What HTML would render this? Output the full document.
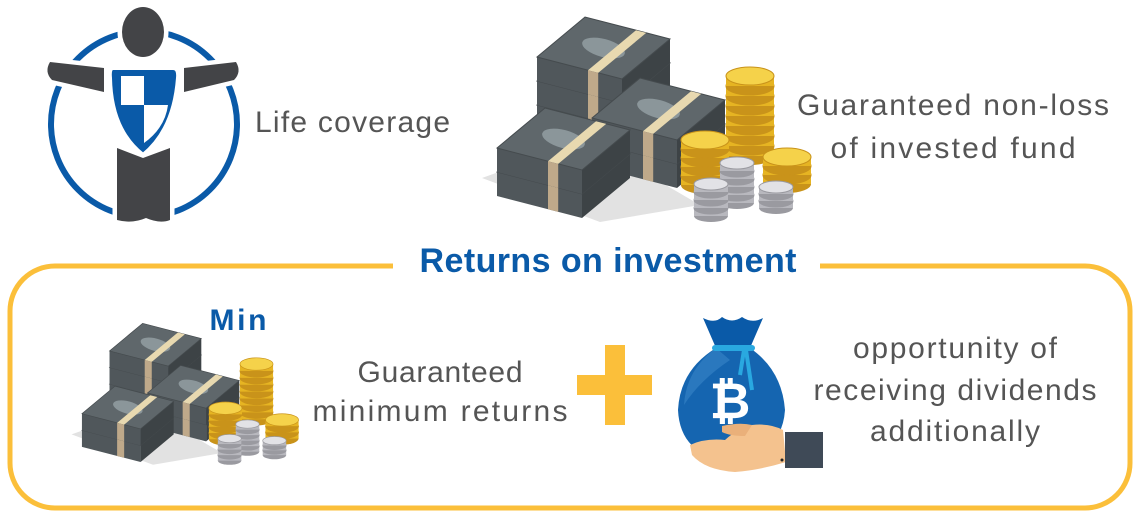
<!DOCTYPE html>
<html><head><meta charset="utf-8"><style>
html,body{margin:0;padding:0;background:#fff;}
svg{display:block;}
text{font-family:"Liberation Sans",sans-serif;}
.t{fill:#555;font-size:30px;}
.b{fill:#0a5aa8;font-weight:bold;}
</style></head><body>
<svg id="s" width="1140" height="515" viewBox="0 0 1140 515" xmlns="http://www.w3.org/2000/svg">
<!-- frame -->
<path d="M393 266 H55 A45 45 0 0 0 10 311 V463 A45 45 0 0 0 55 508 H1085 A45 45 0 0 0 1130 463 V311 A45 45 0 0 0 1085 266 H820" fill="none" stroke="#fbbf3a" stroke-width="5"/>
<!-- person icon -->
<circle cx="144" cy="124" r="93" fill="none" stroke="#0a5aa8" stroke-width="6"/>
<g stroke="#fff" stroke-width="9" fill="#434447">
<ellipse cx="143" cy="32" rx="21" ry="25"/>
<path d="M50 62 Q44 72 52 80 L104 92 L104 68 Z"/>
<path d="M236 62 Q242 72 234 80 L184 92 L184 68 Z"/>
<path d="M117 148 L143 158 L170 148 L170 220 Q160 224 146 218 Q132 224 117 220 Z"/>
</g>
<g stroke="none" fill="#434447">
<ellipse cx="143" cy="32" rx="21" ry="25"/>
<path d="M50 62 Q44 72 52 80 L104 92 L104 68 Z"/>
<path d="M236 62 Q242 72 234 80 L184 92 L184 68 Z"/>
<path d="M117 148 L143 158 L170 148 L170 220 Q160 224 146 218 Q132 224 117 220 Z"/>
</g>
<path d="M113 68 H173 Q179 68 178 78 Q174 130 143 155 Q111 130 110 78 Q109 68 113 68 Z" fill="#0a5aa8" stroke="#fff" stroke-width="4"/>
<path d="M121 76 H144 V105 H121 Z" fill="#fff"/>
<path d="M144 105 H168 Q165 128 144 143 Z" fill="#fff"/>
<!-- texts -->
<text class="t" x="255" y="132" textLength="195">Life coverage</text>
<text class="t" x="953" y="115" text-anchor="middle" textLength="312">Guaranteed non-loss</text>
<text class="t" x="953" y="158" text-anchor="middle" textLength="245">of invested fund</text>
<text class="b" x="608" y="272" text-anchor="middle" font-size="34" textLength="377">Returns on investment</text>
<text class="b" x="238" y="330" text-anchor="middle" font-size="30" textLength="57">Min</text>
<text class="t" x="440" y="382" text-anchor="middle" textLength="165">Guaranteed</text>
<text class="t" x="440" y="421" text-anchor="middle" textLength="255">minimum returns</text>
<text class="t" x="955" y="358" text-anchor="middle" textLength="204">opportunity of</text>
<text class="t" x="955" y="400" text-anchor="middle" textLength="283">receiving dividends</text>
<text class="t" x="955" y="441" text-anchor="middle" textLength="170">additionally</text>
<!-- plus -->
<rect x="605" y="345" width="20" height="80" fill="#fbbf3a"/>
<rect x="577" y="375" width="75" height="20" fill="#fbbf3a"/>
<!-- bag -->
<path d="M703 318 Q715 324 722 317 Q732 324 742 317 Q752 324 763 318 L750 348 H716 Z" fill="#0a5aa8"/>
<path d="M716 348 Q680 370 678 410 Q680 455 730 462 Q782 455 785 410 Q782 370 750 348 Z" fill="#1565b0"/>
<path d="M716 348 Q686 370 684 405 Q700 380 730 360 Z" fill="#2a78be"/>
<rect x="712" y="345" width="43" height="6" rx="3" fill="#29a8e0"/>
<path d="M744 350 L740 375 M746 350 L752 390" stroke="#29a8e0" stroke-width="4"/>
<text x="730" y="418" text-anchor="middle" font-size="50" font-weight="bold" fill="#fff">₿</text>
<path d="M690 445 Q705 438 725 440 Q738 428 752 425 Q770 423 783 430 L786 462 Q760 470 735 472 Q705 470 692 455 Z" fill="#f4c28e"/>
<path d="M722 426 Q740 422 752 425 L745 436 Q730 436 722 432 Z" fill="#eab07a"/>
<rect x="785" y="432" width="38" height="36" fill="#3f4a57"/>
<circle cx="782" cy="460" r="1.5" fill="#222"/>
<g id="money"></g>
</svg>
<script>
var NS="http://www.w3.org/2000/svg";
function el(p,t,a){var e=document.createElementNS(NS,t);for(var k in a)e.setAttribute(k,a[k]);p.appendChild(e);return e;}
function pts(a){return a.map(function(p){return p[0]+","+p[1];}).join(" ");}
function build(g){
 el(g,"polygon",{points:"482,178 600,222 700,205 640,170 560,150",fill:"#e2e2e2"});
 var u=[85,22],v=[48,-40],h=24;
 function bundle(L,bt){
  var A=L,B=[L[0]+u[0],L[1]+u[1]],C=[B[0]+v[0],B[1]+v[1]],D=[L[0]+v[0],L[1]+v[1]];
  function dn(p){return [p[0],p[1]+h];}
  el(g,"polygon",{points:pts([A,B,dn(B),dn(A)]),fill:"#50575b"});
  el(g,"polygon",{points:pts([B,C,dn(C),dn(B)]),fill:"#3d4346"});
  el(g,"polygon",{points:pts([A,B,C,D]),fill:"#5f676b",stroke:"#454b4e","stroke-width":1});
  var c=[(A[0]+C[0])/2,(A[1]+C[1])/2];
  el(g,"ellipse",{cx:c[0],cy:c[1],rx:22,ry:9,fill:"#8b969a",transform:"rotate(15 "+c[0]+" "+c[1]+")"});
  if(bt){var t1=0.6,t2=0.72;
   var P=function(t,w){return [L[0]+u[0]*t+v[0]*w,L[1]+u[1]*t+v[1]*w];};
   el(g,"polygon",{points:pts([P(t1,0),P(t2,0),P(t2,1),P(t1,1)]),fill:"#e8d9b0"});
   var a=P(t1,0),b=P(t2,0);
   el(g,"polygon",{points:pts([a,b,[b[0],b[1]+h],[a[0],a[1]+h]]),fill:"#bfa98a"});
  }
 }
 function stack(L,n){for(var i=n-1;i>=0;i--)bundle([L[0],L[1]+i*h],i==0||true);}
 stack([537,57],3);
 stack([592,118],2);
 stack([497,148],2);
 function coins(cx,top,n,rx,ry,hh,col,side,dark){
  for(var i=n-1;i>=0;i--){var y=top+i*hh;
   el(g,"ellipse",{cx:cx,cy:y+hh,rx:rx,ry:ry,fill:dark});
   el(g,"rect",{x:cx-rx,y:y,width:2*rx,height:hh,fill:side});
   el(g,"ellipse",{cx:cx,cy:y,rx:rx,ry:ry,fill:col,stroke:dark,"stroke-width":1});
  }
 }
 coins(750,76,8,24,9,10,"#f5d24a","#e6b422","#c9931a");
 coins(705,140,5,24,9,9,"#f5d24a","#e6b422","#c9931a");
 coins(787,157,3,24,9,9,"#f5d24a","#e6b422","#c9931a");
 coins(737,163,5,17,6,8,"#e2e2e6","#b8b8be","#9a9aa0");
 coins(711,184,4,17,6,8,"#e2e2e6","#b8b8be","#9a9aa0");
 coins(776,187,3,17,6,7,"#e2e2e6","#b8b8be","#9a9aa0");
}
var m=document.getElementById("money");
var g1=el(m,"g",{});build(g1);
var g2=el(m,"g",{transform:"translate(-261,311.6) scale(0.69)"});build(g2);
</script>
</body></html>
